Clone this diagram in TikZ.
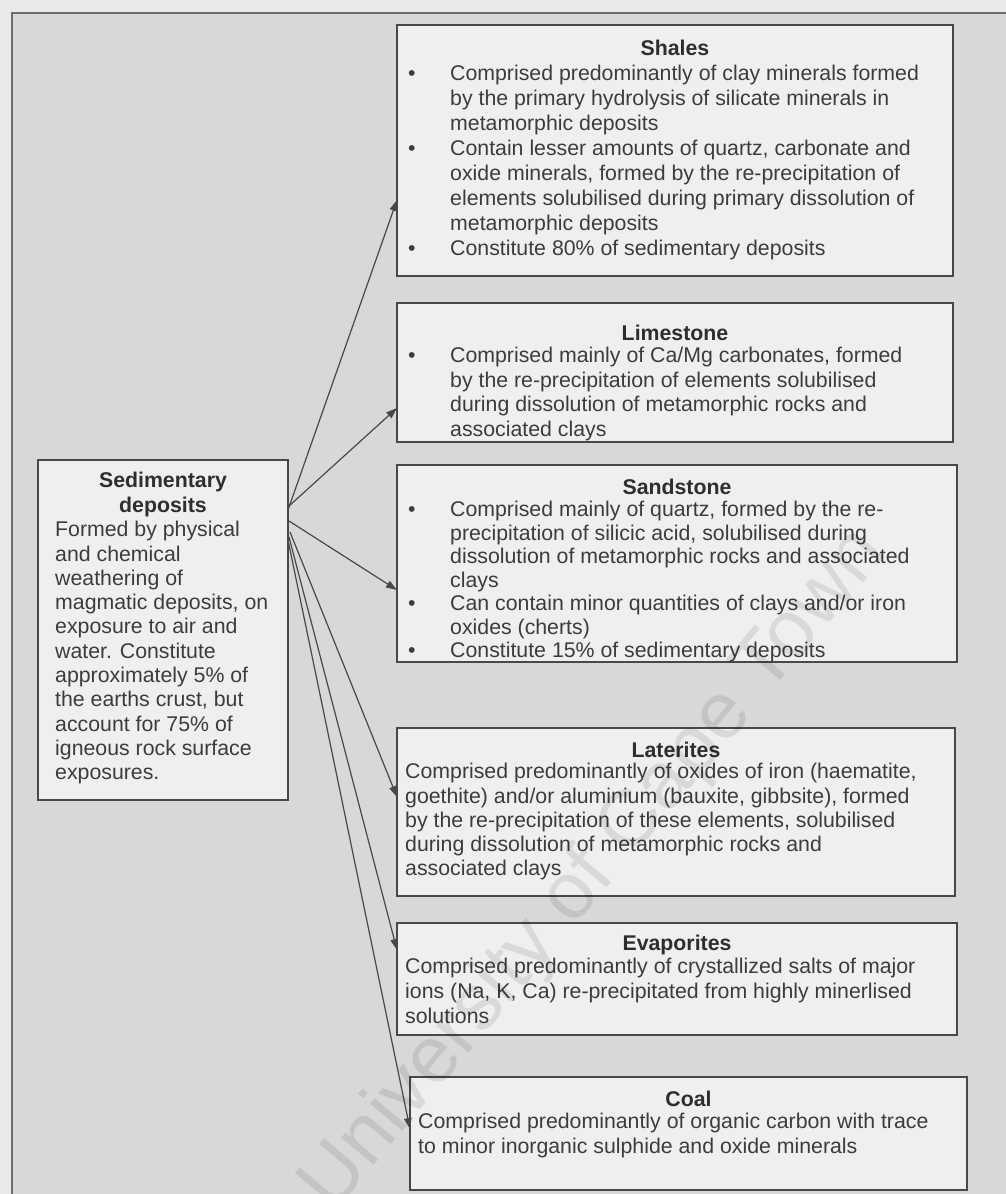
\documentclass[tikz,border=0pt]{standalone}
\usepackage{fontspec}
\setmainfont{Liberation Sans}
\usetikzlibrary{arrows.meta,calc}

\definecolor{pagebg}{HTML}{E9E9E9}
\definecolor{panelbg}{HTML}{D8D8D8}
\definecolor{boxfill}{HTML}{EFEFEF}
\definecolor{ink}{HTML}{3C3C3C}
\definecolor{headink}{HTML}{2E2E2E}
\definecolor{rule}{HTML}{484848}

% bullet column and its continuation indent
\newcommand\bulitem{\makebox[42pt][l]{\textbullet}}
\newcommand\bulcont{\makebox[42pt][l]{}}

\begin{document}
\begin{tikzpicture}[x=1pt,y=-1pt,
  panel/.style={draw=rule, line width=1.4pt, fill=boxfill, rectangle, inner sep=0pt, outer sep=0pt},
  body/.style={anchor=north west, inner sep=0pt, align=left, text=ink,
               font=\fontsize{21.3}{#1}\selectfont},
  body/.default=24.8,
  head/.style={anchor=base, inner sep=0pt, text=headink,
               font=\bfseries\fontsize{21.3}{25}\selectfont},
  link/.style={draw=rule, line width=1.2pt, -{Triangle[length=11pt,width=7.5pt]}}]

\useasboundingbox (0,0) rectangle (1006,1194);
\fill[pagebg] (0,0) rectangle (1006,1194);
\fill[panelbg] (12,13) rectangle (1006,1194);
\draw[rule!80, line width=1.4pt] (12,1194) -- (12,13) -- (1006,13);

% ---- boxes
\node[panel, minimum width=250pt, minimum height=340pt] (sed) at (163,630) {};
\node[panel, minimum width=556pt, minimum height=251pt] (shales) at (675,150.5) {};
\node[panel, minimum width=556pt, minimum height=139pt] (lime) at (675,372.5) {};
\node[panel, minimum width=560pt, minimum height=197pt] (sand) at (677,563.5) {};
\node[panel, minimum width=558pt, minimum height=168pt] (later) at (676,812) {};
\node[panel, minimum width=560pt, minimum height=112pt] (evap) at (677,979) {};
\node[panel, minimum width=557pt, minimum height=113pt] (coal) at (688.5,1133.5) {};

% ---- Sedimentary deposits
\node[head, align=center, anchor=north] (sedT) at (163,470)
  {\strut Sedimentary\\deposits};
\node[body=24.3] (sedB) at (55,519.5) {\strut Formed by physical\\
  and chemical\\
  weathering of\\
  magmatic deposits, on\\
  exposure to air and\\
  water. Constitute\\
  approximately 5\% of\\
  the earths crust, but\\
  account for 75\% of\\
  igneous rock surface\\
  exposures.};

% ---- Shales
\node[head] (shalesT) at (675,55.5) {Shales};
\node[body=25] (shalesB) at (408,62.5) {\strut\bulitem Comprised predominantly of clay minerals formed\\
  \bulcont by the primary hydrolysis of silicate minerals in\\
  \bulcont metamorphic deposits\\
  \bulitem Contain lesser amounts of quartz, carbonate and\\
  \bulcont oxide minerals, formed by the re-precipitation of\\
  \bulcont elements solubilised during primary dissolution of\\
  \bulcont metamorphic deposits\\
  \bulitem Constitute 80\% of sedimentary deposits};

% ---- Limestone
\node[head] (limeT) at (675,340) {Limestone};
\node[body=24.5] (limeB) at (408,345.3) {\strut\bulitem Comprised mainly of Ca/Mg carbonates, formed\\
  \bulcont by the re-precipitation of elements solubilised\\
  \bulcont during dissolution of metamorphic  rocks and\\
  \bulcont associated clays};

% ---- Sandstone
\node[head] (sandT) at (677,494) {Sandstone};
\node[body=23.5] (sandB) at (408,500) {\strut\bulitem Comprised mainly of quartz, formed by the re-\\
  \bulcont precipitation of silicic acid, solubilised during\\
  \bulcont dissolution of metamorphic  rocks and associated\\
  \bulcont clays\\
  \bulitem Can contain minor quantities of clays and/or iron\\
  \bulcont oxides (cherts)\\
  \bulitem Constitute 15\% of sedimentary deposits};

% ---- Laterites
\node[head] (laterT) at (676,757.5) {Laterites};
\node[body=24.3] (laterB) at (405,761.5) {\strut Comprised predominantly of oxides of iron (haematite,\\
  goethite) and/or aluminium (bauxite, gibbsite), formed\\
  by the re-precipitation of these elements, solubilised\\
  during dissolution of metamorphic rocks and\\
  associated clays};

% ---- Evaporites
\node[head] (evapT) at (677,950.5) {Evaporites};
\node[body] (evapB) at (405,956.1) {\strut Comprised predominantly of crystallized salts of major\\
  ions (Na, K, Ca) re-precipitated from highly minerlised\\
  solutions};

% ---- Coal
\node[head] (coalT) at (688.5,1106.5) {Coal};
\node[body] (coalB) at (418,1111.1) {\strut Comprised predominantly of organic carbon with trace\\
  to minor inorganic sulphide and oxide minerals};

% ---- connectors from the source box to each deposit type
\draw[link] ($(sed.north east)+(0,50)$) -- ($(shales.north west)+(0,175)$);
\draw[link] ($(sed.north east)+(1,46)$) -- ($(lime.north west)+(0,105)$);
\draw[link] ($(sed.north east)+(1,61)$) -- ($(sand.north west)+(0,125)$);
\draw[link] ($(sed.north east)+(2,72)$) -- ($(later.north west)+(0,69)$);
\draw[link] ($(sed.north east)+(1,77)$) -- ($(evap.north west)+(0,27)$);
\draw[link] ($(sed.north east)+(0,80)$) -- ($(coal.north west)+(0,52)$);

% ---- repository watermark
\node[rotate=50, text=black, opacity=0.09, font=\fontsize{80}{80}\selectfont] (wm)
  at (595,870) {University of Cape Town};
\end{tikzpicture}
\end{document}
